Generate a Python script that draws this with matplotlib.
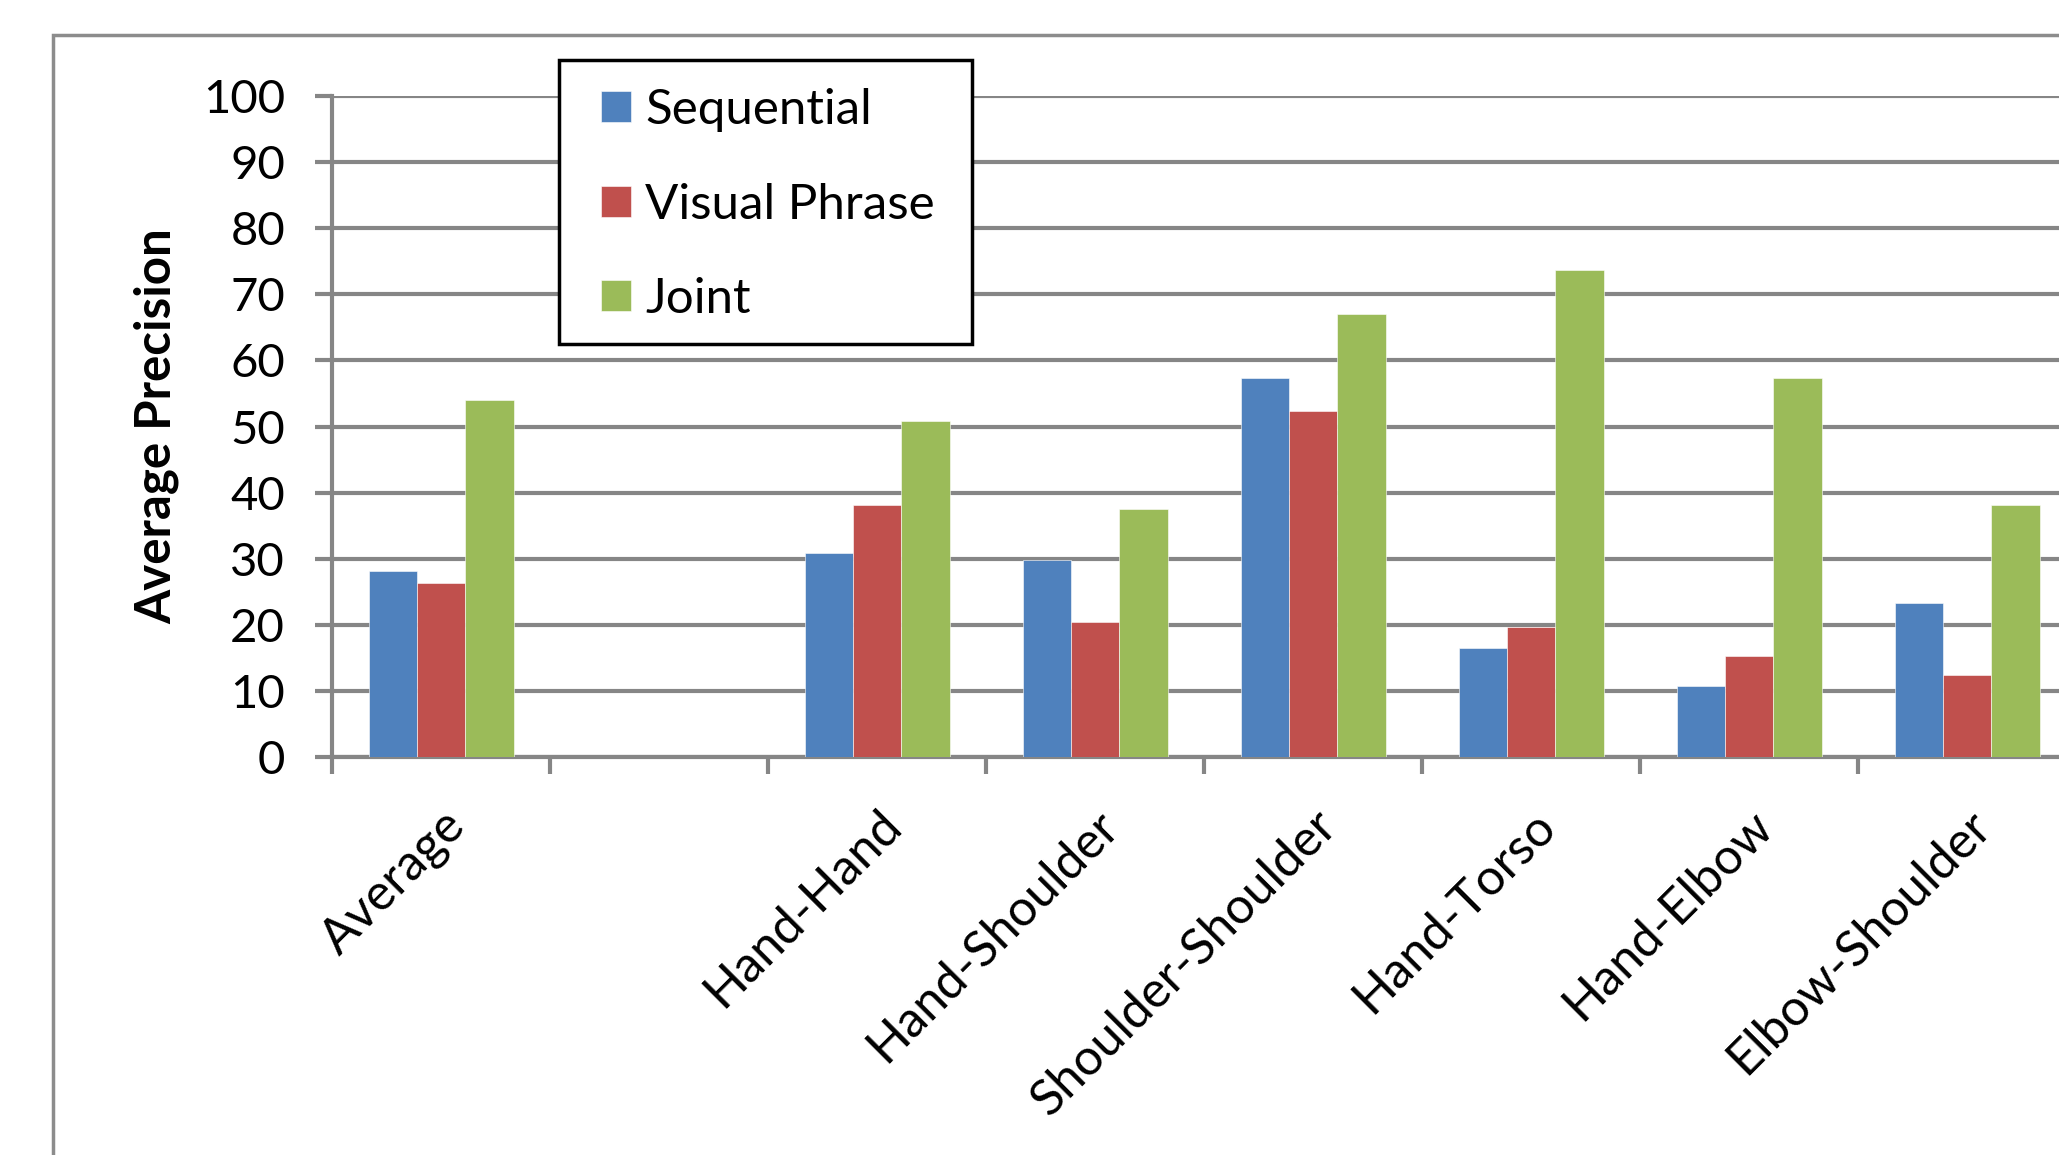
import numpy as np
import matplotlib
matplotlib.use('Agg')
import matplotlib.pyplot as plt
from matplotlib.patches import Rectangle
from matplotlib.transforms import ScaledTranslation

# Average precision per body-part pair (blank slot keeps the gap after "Average")
categories = ['Average', '', 'Hand-Hand', 'Hand-Shoulder', 'Shoulder-Shoulder',
              'Hand-Torso', 'Hand-Elbow', 'Elbow-Shoulder']
sequential = [28.1, np.nan, 30.9, 29.9, 57.3, 16.6, 10.8, 23.4]
visual_phrase = [26.3, np.nan, 38.1, 20.5, 52.4, 19.7, 15.3, 12.4]
joint = [54.0, np.nan, 50.8, 37.6, 67.0, 73.6, 57.3, 38.2]
series_names = ['Sequential', 'Visual Phrase', 'Joint']
colors = ['#4F81BD', '#C0504D', '#9BBB59']

plt.rcParams['font.family'] = ['Lato', 'DejaVu Sans']
grid_gray = '#868686'

fig = plt.figure(figsize=(20.59, 11.55), dpi=100)
# chart area frame, runs off the right and bottom edges
fig.patches.append(Rectangle((0.0255, -0.2), 1.2, 1.1693, transform=fig.transFigure,
                             fill=False, edgecolor='#8c8c8c', linewidth=2.5))

ax = fig.add_axes([0.1614, 0.3443, 0.847, 0.5727])
x = np.arange(len(categories))
w = 0.221
for i, (vals, name) in enumerate(zip([sequential, visual_phrase, joint], series_names)):
    ax.bar(x + (i - 1) * w, vals, w, color=colors[i], label=name, zorder=3,
           edgecolor='white', linewidth=0.4)

ax.set_xlim(-0.5, len(categories) - 0.5)
ax.set_ylim(0, 100)
ax.set_yticks(np.arange(0, 101, 10))
ax.yaxis.grid(True, color=grid_gray, linewidth=3, zorder=0)
ax.set_axisbelow(True)

for s in ['top', 'right']:
    ax.spines[s].set_visible(False)
for s in ['left', 'bottom']:
    ax.spines[s].set_color(grid_gray)
    ax.spines[s].set_linewidth(3)

# category boundaries as tick marks, names at the centres
ax.set_xticks(np.arange(-0.5, len(categories), 1.0))
ax.set_xticklabels([])
ax.set_xticks(x, minor=True)
ax.set_xticklabels(categories, minor=True, rotation=45, ha='right',
                   rotation_mode='anchor', fontsize=36)
shift = ScaledTranslation(-0.16, 0, fig.dpi_scale_trans)
for lab in ax.get_xticklabels(minor=True):
    lab.set_transform(lab.get_transform() + shift)
ax.tick_params(axis='x', which='major', length=12, width=3, color=grid_gray)
ax.tick_params(axis='x', which='minor', length=0, pad=32)
ax.tick_params(axis='y', length=12, width=3, color=grid_gray, labelsize=34, pad=22)

ax.set_ylabel('Average Precision', fontsize=35.5, fontweight='bold', labelpad=17)

# legend entries, with the box drawn separately around them
leg = ax.legend(loc='center left', bbox_to_anchor=(0.2921, 0.8228),
                bbox_transform=fig.transFigure, fontsize=35.5, frameon=False,
                handlelength=0.59, handleheight=0.59, handletextpad=0.3,
                labelspacing=1.02, borderpad=0, borderaxespad=0)
leg.set_zorder(6)
ax.add_patch(Rectangle((0.2717, 0.7023), 0.2002, 0.2454, transform=fig.transFigure,
                       fill=True, facecolor='white', edgecolor='black',
                       linewidth=2.5, zorder=5, clip_on=False))

fig.savefig('out.png', dpi=100)
